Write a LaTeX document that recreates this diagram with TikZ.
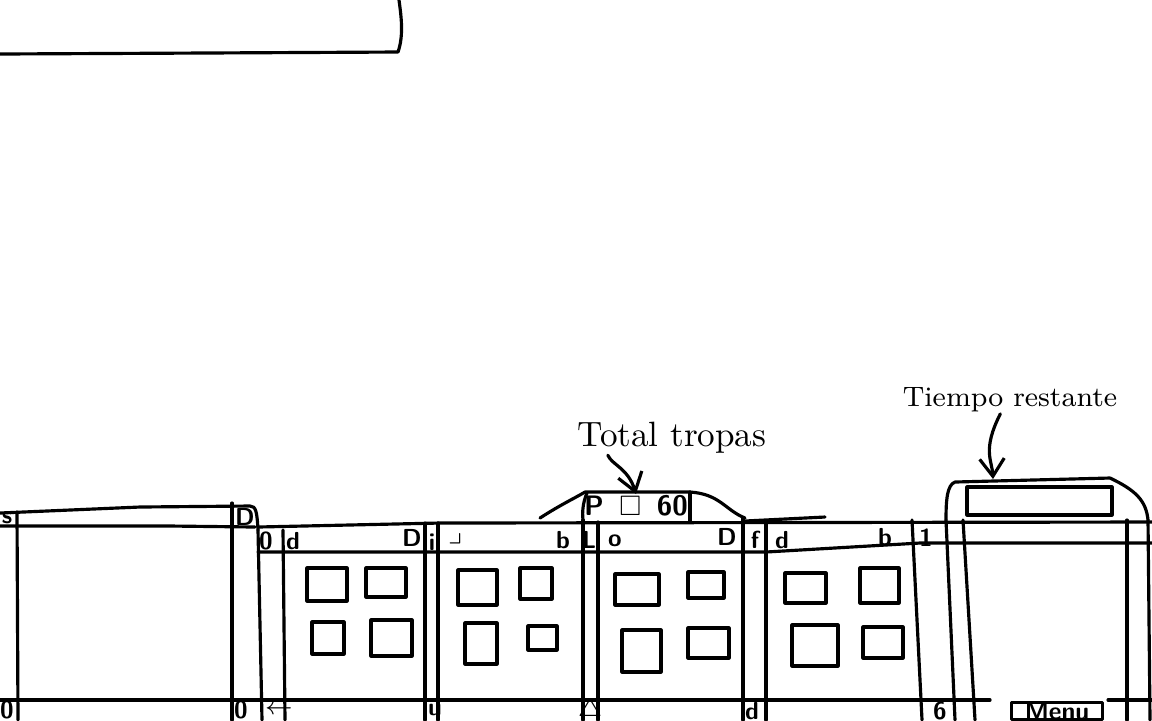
\documentclass[tikz,border=0pt]{standalone}
\usepackage{amssymb}
\usetikzlibrary{positioning,arrows.meta}
\begin{document}
\begin{tikzpicture}[x=0.01cm, y=-0.01cm, line width=0.9pt, line join=round, line cap=round,
    every node/.style={inner sep=0pt},
    icon/.style={font=\scriptsize\bfseries\sffamily},
    note/.style={font=\normalsize},
    pointer/.style={-{Straight Barb[length=5pt,width=7pt]}, line width=0.9pt}]
    \useasboundingbox (0,0) rectangle (1152,720);

    % box in the top left corner
    \draw (0,54) -- (205,53) -- (398,52) .. controls (404,35) and (401,15) .. (399,0);

    % left panel
    \draw (0,513) -- (140,507) -- (250,506) .. controls (256,506) and (257,512) .. (258,530);
    \draw (0,526) -- (170,526) -- (255,527);
    \draw (17,512) -- (18,720);
    \draw (232,503) -- (232,720);
    \draw (258,530) -- (262,720);

    % header band and bottom bar
    \draw (258,527) -- (440,523) -- (1152,522);
    \draw (258,552) -- (766,552) -- (920,543) -- (1152,543);
    \draw (0,700) -- (990,700);
    \draw (1108,700) -- (1152,700);

    % column separators
    \draw (283,530) -- (285,720);
    \draw (425,523) -- (425,720);
    \draw (438,523) -- (438,720);
    \draw (583,520) -- (583,720);
    \draw (598,522) -- (598,720);
    \draw (743,518) -- (743,720);
    \draw (766,522) -- (766,720);
    \draw (912,520) -- (922,720);
    \draw (946,520) -- (955,720);
    \draw (963,520) -- (975,720);
    \draw (1127,520) -- (1127,720);
    \draw (1148,520) -- (1150,720);

    % cards, four slots each
    \foreach \a/\b/\c/\d in {307/568/347/601, 366/568/406/597, 312/622/344/654, 371/620/412/656,
                             458/570/497/605, 520/568/552/599, 465/623/497/664, 528/626/557/650,
                             615/574/659/605, 688/572/724/598, 622/630/661/672, 688/628/729/658,
                             785/573/826/603, 860/568/899/603, 792/625/838/666, 863/627/903/658}
        \draw (\a,\b) rectangle (\c,\d);

    % total troops box
    \draw (540,518) .. controls (560,505) and (575,498) .. (585,492) -- (690,492)
          .. controls (720,494) and (725,510) .. (745,518);
    \draw (587,493) .. controls (583,502) and (582,512) .. (583,520);
    \draw (690,492) -- (690,522);
    \draw (745,521) -- (825,517);
    \node[icon, font=\footnotesize\bfseries\sffamily] (troops) at (636,506) {P\;\;$\square$\;\;60};

    % remaining time box
    \draw (946,520) .. controls (946,500) and (947,485) .. (955,482) -- (1110,478)
          .. controls (1135,490) and (1146,500) .. (1148,520);
    \draw (967,487) rectangle (1112,515);
    \coordinate (timebox) at (993,479);

    % labels with arrows
    \node[note] (tropas) at (672,438) {Total tropas};
    \node[note, font=\footnotesize] (tiempo) at (1010,400) {Tiempo restante};
    \draw[pointer] (tropas.195) .. controls (612,465) and (628,468) .. (troops.north);
    \draw[pointer] (tiempo.235) .. controls (982,450) and (992,460) .. (timebox);

    % header icons
    \node[icon] (l1) at (7,518) {s};
    \node[icon] (l2) at (245,517) {D};
    \node[icon] (h1) at (266,541) {0};
    \node[icon] (h2) at (293,541) {d};
    \node[icon] (h3) at (412,538) {D};
    \node[icon] (h4) at (432,542) {i};
    \node[icon] (h5) at (455,538) {$\lrcorner$};
    \node[icon] (h6) at (563,540) {b};
    \node[icon] (h7) at (589,540) {L};
    \node[icon] (h8) at (615,541) {o};
    \node[icon] (h9) at (727,537) {D};
    \node[icon] (h10) at (755,540) {f};
    \node[icon] (h11) at (782,540) {d};
    \node[icon] (h12) at (885,537) {b};
    \node[icon] (h13) at (926,538) {1};

    % bottom icons
    \node[icon] (b1) at (7,710) {0};
    \node[icon] (b2) at (241,710) {0};
    \node[icon] (b3) at (279,710) {$\leftarrow$};
    \node[icon] (b4) at (435,710) {u};
    \node[icon] (b5) at (590,710) {$\triangle$};
    \node[icon] (b6) at (752,711) {d};
    \node[icon] (b7) at (940,711) {6};
    \node[draw, icon, minimum width=0.91cm, minimum height=0.15cm] (menu) at (1057,711) {Menu};
\end{tikzpicture}
\end{document}
